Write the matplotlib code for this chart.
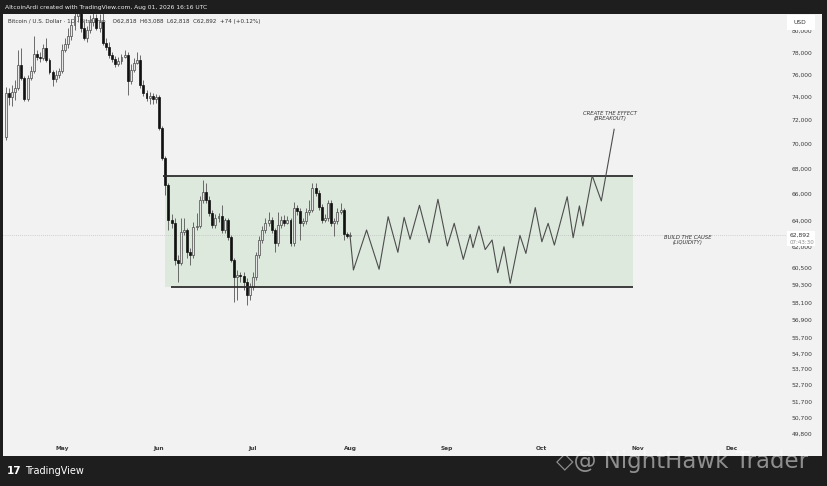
import numpy as np
import matplotlib
matplotlib.use("Agg")
import matplotlib.pyplot as plt
from matplotlib.patches import Rectangle
from matplotlib.ticker import FixedLocator, NullLocator

# ---------------- data ----------------
month_labels = ["May", "Jun", "Jul", "Aug", "Sep", "Oct", "Nov", "Dec"]
month_days = [0, 31, 61, 92, 123, 153, 184, 214]          # days since May 1

first_day = -18                                            # first candle (days since May 1)
first_open = 70590
closes = [74350, 74000, 74440, 74790, 76840, 75670, 73830, 75670, 76300, 77840,
          77570, 77480, 78400, 77300, 76210, 75590, 75940, 76300, 78210, 78770,
          79510, 80550, 81410, 81790, 80270, 79330, 80080, 80830, 81220, 80270,
          80830, 78860, 78490, 77750, 77390, 76930, 77210, 77570, 77750, 75410,
          76390, 77020, 77300, 75050, 74350, 73910, 74090, 73830, 74000, 71350,
          68870, 66710, 64020, 63790, 61070, 60860, 63120, 63270, 61650, 61430,
          63490, 63570, 65550, 66170, 65550, 64550, 63640, 64170, 64320, 63270,
          64020, 62750, 61070, 59860, 60000, 59930, 59510, 58610, 59160, 59860,
          61430, 62530, 63270, 63790, 64020, 63270, 62310, 63640, 64020, 63790,
          64020, 62310, 64930, 64700, 63790, 63940, 64620, 64780, 66480, 66090,
          65010, 64020, 64170, 65310, 63790, 63940, 64620, 64780, 62970, 62818,
          62892]
highs = [74880, 74790, 75050, 75500, 78210, 78400, 75850, 75940, 76750, 79510,
         78210, 78030, 78770, 79330, 77480, 76390, 76390, 76570, 78770, 79330,
         80270, 81030, 81790, 81980, 81980, 80830, 80450, 81500, 81980, 81600,
         81600, 81790, 79330, 78950, 78030, 77660, 77570, 77840, 78210, 78030,
         76930, 77480, 78030, 77750, 75500, 74610, 74440, 74350, 74260, 74170,
         71510, 69030, 66870, 64470, 64170, 61430, 64170, 64170, 63420, 61940,
         63870, 64550, 65860, 67110, 66870, 65860, 64780, 64470, 64550, 65160,
         64170, 64170, 62900, 61220, 60360, 60220, 60220, 59790, 59440, 60220,
         61650, 62820, 63570, 64170, 64620, 64250, 63420, 64620, 64320, 64400,
         64320, 64170, 65390, 65160, 64930, 64170, 64930, 65550, 66870, 66870,
         66320, 65240, 64470, 65550, 65550, 64170, 64930, 65310, 64930, 63120,
         63088]
lows = [70350, 73310, 73220, 73740, 74610, 75500, 73650, 73650, 75500, 76120,
        77300, 77120, 77300, 77120, 76030, 74970, 75320, 75670, 76120, 78030,
        78400, 79140, 80080, 80830, 79890, 79140, 78950, 79800, 80450, 80080,
        79890, 78680, 78210, 77480, 77120, 76660, 76750, 76930, 77480, 74170,
        75140, 76210, 76930, 74790, 74090, 73650, 73390, 73390, 73480, 71180,
        68710, 65930, 63270, 63420, 60710, 59510, 60710, 62900, 61220, 60710,
        61220, 63270, 63420, 65310, 65310, 64320, 63420, 63420, 63870, 63050,
        63050, 62530, 60930, 58130, 58260, 59510, 58950, 57920, 58260, 58950,
        59650, 61220, 62310, 63050, 63570, 63050, 61650, 62090, 63420, 63570,
        63720, 62090, 62090, 64400, 62530, 63570, 63720, 64400, 64620, 65860,
        64780, 63790, 63870, 63940, 63570, 62820, 63720, 64470, 62530, 62680,
        62818]

# projected path drawn by the author (days since May 1, price)
proj_days = [92, 93.1, 97.3, 101.3, 104.2, 107.3, 109.3, 111.2, 114.2, 117.3,
             120.1, 123.1, 125.3, 128.2, 130.4, 131.3, 133.2, 135.2, 137.4, 139.2,
             141.2, 143.2, 146.3, 148.2, 151.2, 153.3, 155.3, 157.3, 161.4, 163.3,
             165.3, 166.4, 169.4, 172.3, 176.4]
proj_prices = [62892, 60360, 63270, 60410, 64270, 61630, 64220, 62580, 65140, 62330,
               65600, 62090, 63770, 61120, 62940, 61970, 63570, 61830, 62530, 60170,
               62040, 59420, 62870, 61550, 64960, 62400, 63770, 62160, 65800, 62700,
               65090, 63570, 67450, 65470, 71240]

# range box
box_top, box_bottom = 67430, 59150
box_start, box_bottom_start, box_end = 32.9, 34.8, 182.4

price_ticks = [80000, 78000, 76000, 74000, 72000, 70000, 68000, 66000, 64000, 62000,
               60500, 59300, 58100, 56900, 55700, 54700, 53700, 52700, 51700, 50700, 49800]
last_price = 62892

# ---------------- figure ----------------
W, H = 828, 486
fig = plt.figure(figsize=(W / 100, H / 100), dpi=100, facecolor="#1e1e1e")

def fx(px):
    return px / W

def fy(py):
    return 1 - py / H

# light chart panel
fig.patches.append(Rectangle((fx(3), fy(456)), fx(822) - fx(3), fy(14) - fy(456),
                             transform=fig.transFigure, facecolor="#f2f2f2",
                             edgecolor="none", zorder=-5))

ax = fig.add_axes([fx(3), fy(441), fx(786) - fx(3), fy(14) - fy(441)])
ax.set_facecolor("none")
ax.set_yscale("log")
ax.set_xlim(-18.85, 231.3)
ax.set_ylim(49349, 81599)
for s in ax.spines.values():
    s.set_visible(False)

# range box
ax.fill_between([box_start, box_end], box_bottom, box_top, color="#dde9dd",
                lw=0, zorder=0.5)
ax.hlines(box_top, box_start - 0.6, box_end, color="#2e2e2e", lw=1.3, zorder=3)
ax.hlines(box_bottom, box_bottom_start, box_end, color="#2e2e2e", lw=1.3, zorder=3)

# current price dotted line
ax.axhline(last_price, color="#b0b0b0", lw=0.5, ls=(0, (1, 2)), zorder=0.8)

# candles
closes_a = np.array(closes, float)
opens_a = np.concatenate([[first_open], closes_a[:-1]])
days = first_day + np.arange(len(closes_a))
up = closes_a >= opens_a
ax.vlines(days, lows, highs, color="#555555", lw=0.6, zorder=2)
bw = 0.62
ax.bar(days[up], np.maximum(closes_a[up] - opens_a[up], 15), bottom=opens_a[up],
       width=bw, color="#e6e6e6", edgecolor="#4a4a4a", lw=0.5, zorder=2.5)
ax.bar(days[~up], np.maximum(opens_a[~up] - closes_a[~up], 15), bottom=closes_a[~up],
       width=bw, color="#111111", edgecolor="#111111", lw=0.5, zorder=2.5)

# projection zigzag
ax.plot(proj_days, proj_prices, color="#4d4d4d", lw=0.8, zorder=3)

# axes ticks
ax.yaxis.tick_right()
ax.yaxis.set_major_locator(FixedLocator(price_ticks))
ax.yaxis.set_minor_locator(NullLocator())
ax.set_yticklabels([f"{v:,}" for v in price_ticks])
ax.tick_params(axis="y", length=0, pad=4, labelsize=4.3, labelcolor="#3a3a3a")
ax.set_xticks(month_days)
ax.set_xticklabels(month_labels)
ax.tick_params(axis="x", length=0, pad=3.3, labelsize=4.2, labelcolor="#3a3a3a")
for t in ax.get_xticklabels():
    t.set_fontweight("bold")

# annotations
fig.text(fx(610), fy(116), "CREATE THE EFFECT\n(BREAKOUT)", ha="center", va="center",
         fontsize=3.8, style="italic", color="#333333", linespacing=1.0)
fig.text(fx(688), fy(240), "BUILD THE CAUSE\n(LIQUIDITY)", ha="center", va="center",
         fontsize=3.8, style="italic", color="#333333", linespacing=1.0)

# header
fig.text(fx(5), fy(7), "AltcoinArdi created with TradingView.com, Aug 01, 2026 16:16 UTC",
         ha="left", va="center", fontsize=4.3, color="#f0f0f0")
fig.text(fx(8), fy(21), "Bitcoin / U.S. Dollar · 1D · Bitstamp    O62,818  H63,088  L62,818  C62,892  +74 (+0.12%)",
         ha="left", va="center", fontsize=4.1, color="#333333", zorder=-1)

# USD box
fig.patches.append(Rectangle((fx(787), fy(30)), fx(815) - fx(787), fy(15) - fy(30),
                             transform=fig.transFigure, facecolor="white",
                             edgecolor="none", zorder=1))
fig.text(fx(794), fy(22), "USD", ha="left", va="center", fontsize=4.3,
         color="#333333", zorder=2)

# last price box
fig.patches.append(Rectangle((fx(787), fy(246)), fx(815) - fx(787), fy(231) - fy(246),
                             transform=fig.transFigure, facecolor="white",
                             edgecolor="none", zorder=1))
fig.text(fx(790), fy(235.5), f"{last_price:,}", ha="left", va="center", fontsize=4.3,
         color="#333333", zorder=2)
fig.text(fx(790), fy(242), "07:43:30", ha="left", va="center", fontsize=4.0,
         color="#8a8a8a", zorder=2)

# bottom logo and watermark
fig.text(fx(7), fy(471), "17", ha="left", va="center", fontsize=7.5,
         fontweight="bold", color="white")
fig.text(fx(25), fy(471), "TradingView", ha="left", va="center", fontsize=7,
         color="white")
fig.text(fx(556), fy(461), "◇@ NightHawk Trader", ha="left", va="center",
         fontsize=16.5, color=(1, 1, 1, 0.5), zorder=5)

fig.savefig("out.png", dpi=100, facecolor=fig.get_facecolor())
